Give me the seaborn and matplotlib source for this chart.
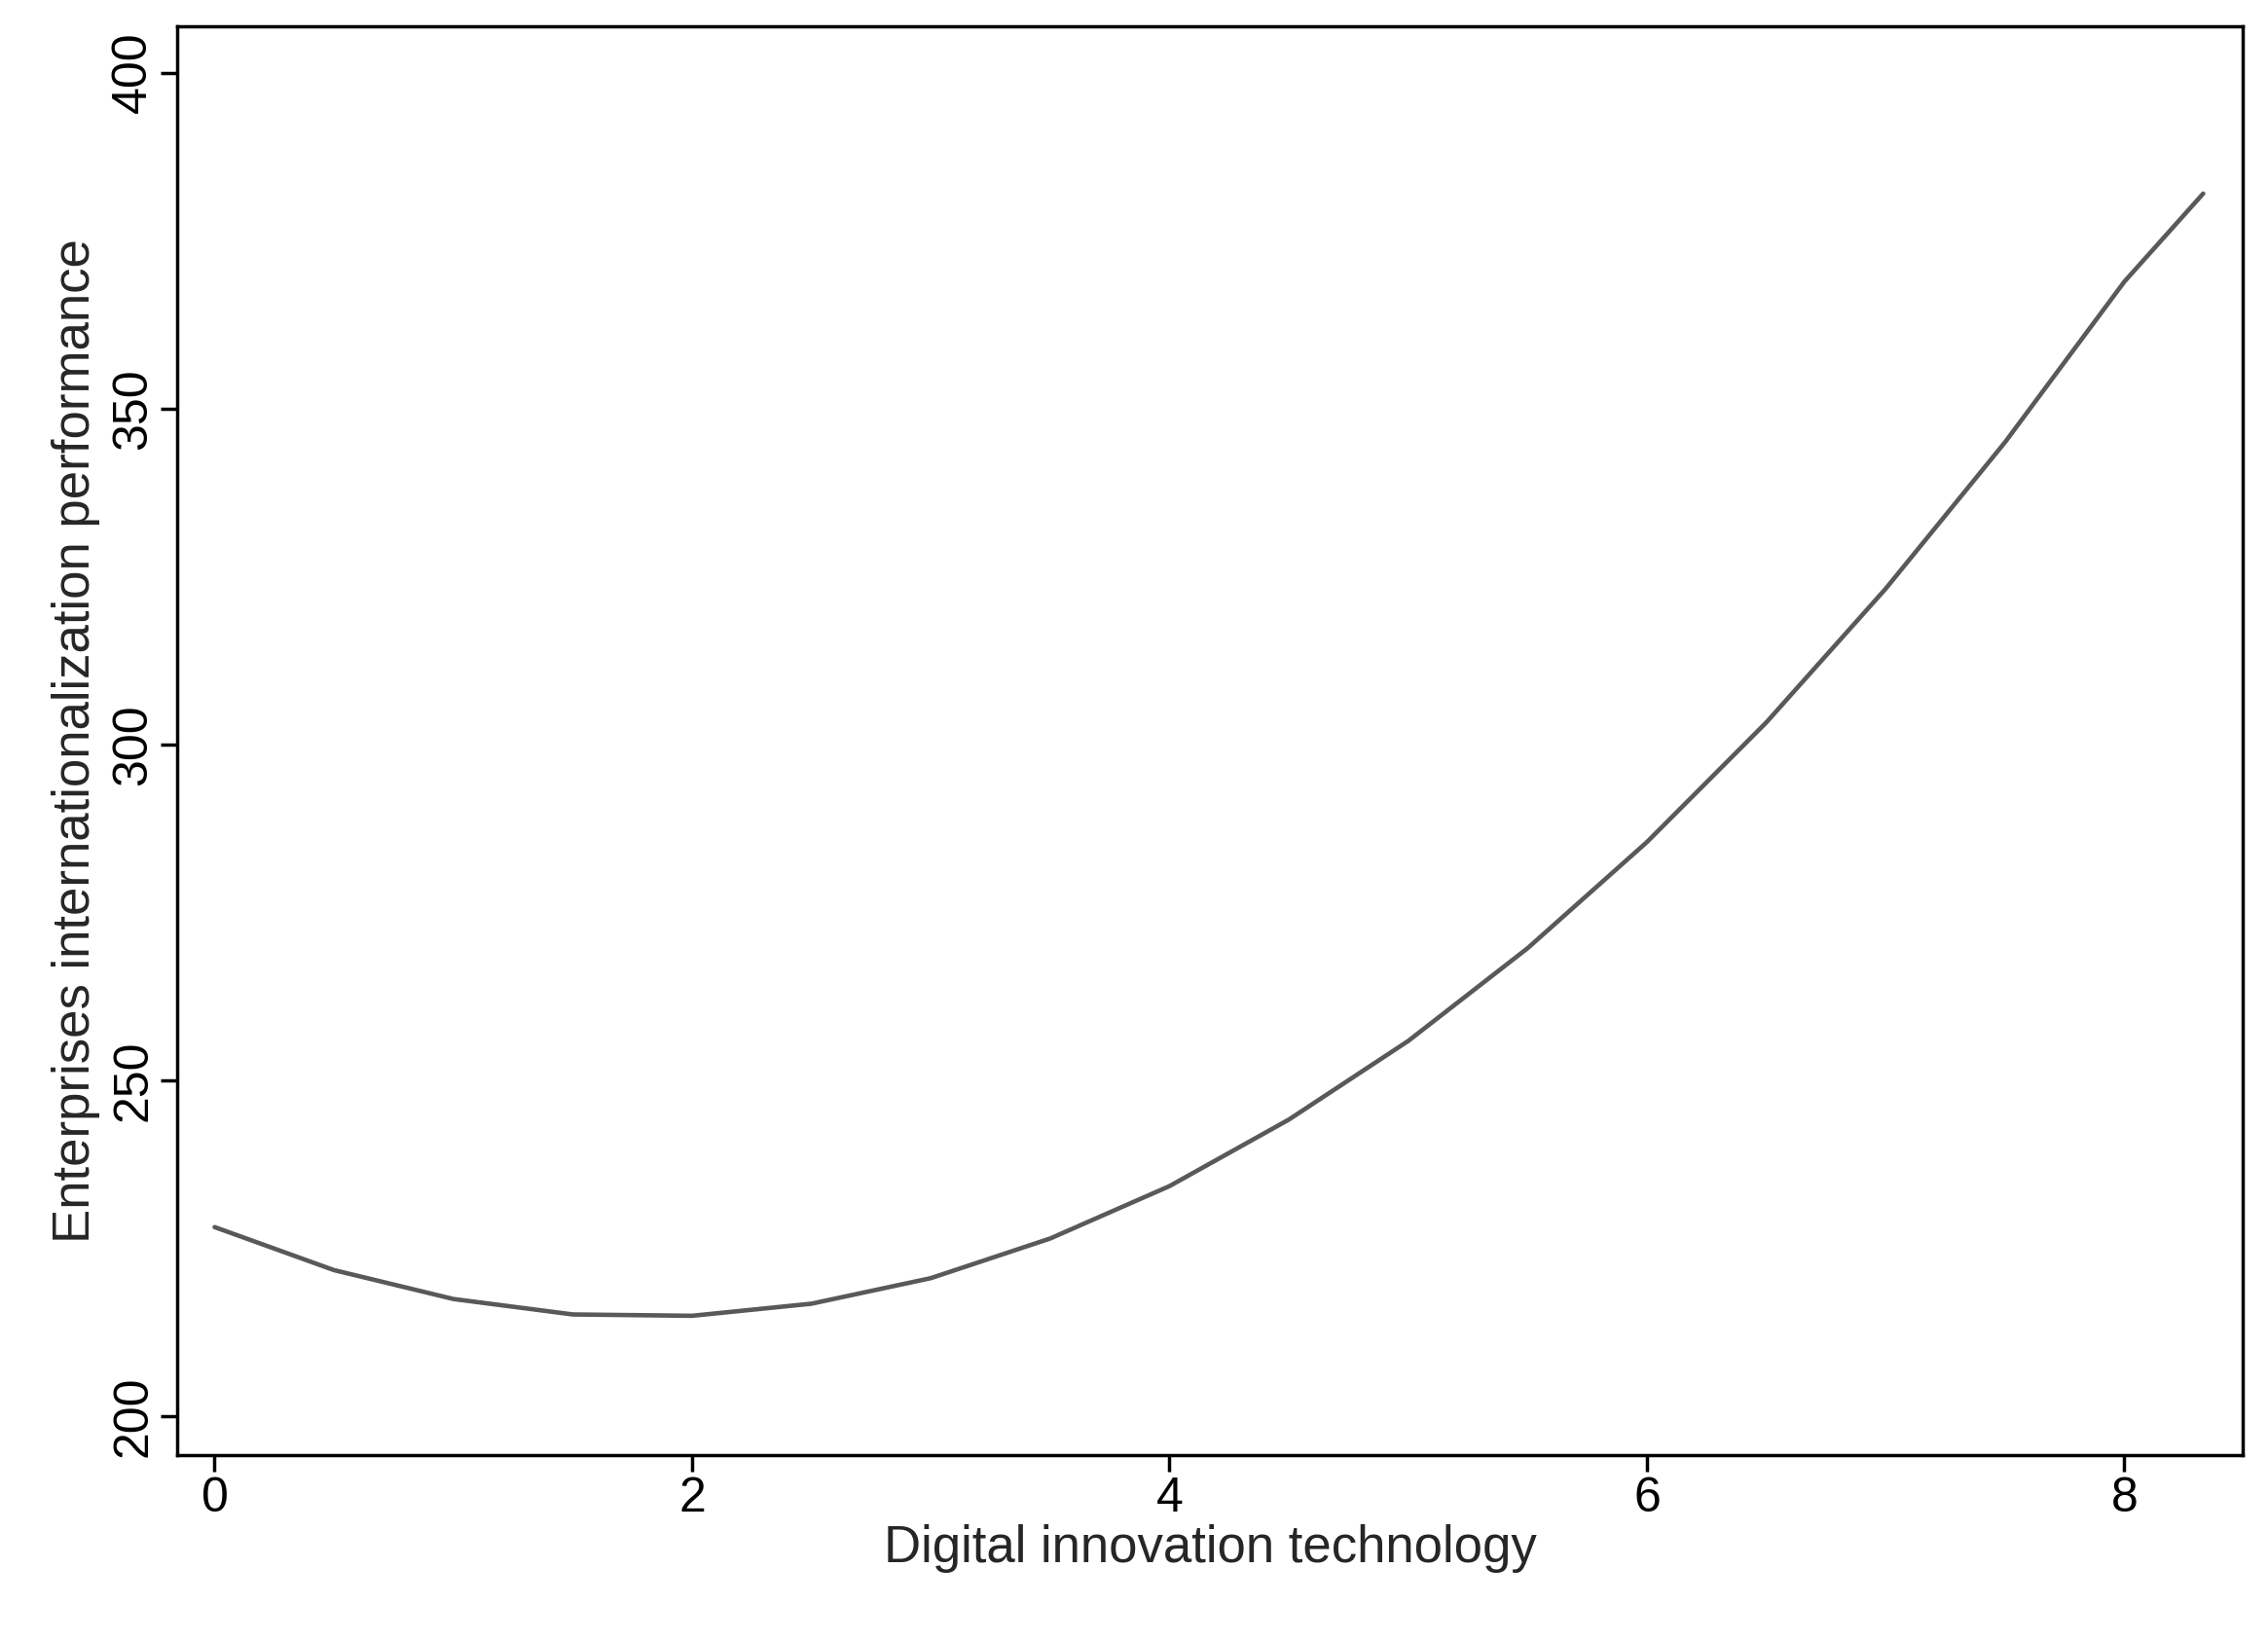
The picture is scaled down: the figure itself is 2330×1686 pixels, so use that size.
import numpy as np
import pandas as pd
import matplotlib
matplotlib.use("Agg")
import matplotlib.pyplot as plt
import seaborn as sns

x_vals = [0, 0.5, 1, 1.5, 2, 2.5, 3, 3.5, 4, 4.5, 5, 5.5, 6, 6.5, 7, 7.5, 8, 8.33]
y_vals = [228.2, 221.8, 217.5, 215.2, 215.0, 216.8, 220.6, 226.5, 234.3, 244.2, 255.9, 269.7, 285.5, 303.3, 323.2, 345.0, 368.9, 382.0]
x_ticks = [0, 2, 4, 6, 8]
y_ticks = [200, 250, 300, 350, 400]

sns.set_theme(style="ticks")
plt.rcParams['font.family'] = ['Liberation Sans', 'DejaVu Sans']

fig = plt.figure(figsize=(23.3, 16.86), dpi=100)
ax = fig.add_axes([0.078, 0.113, 0.911, 0.871])
df = pd.DataFrame({"x": x_vals, "y": y_vals})
sns.lineplot(data=df, x="x", y="y", ax=ax, color="#595959", linewidth=3.3)
ax.set_xlim(-0.158, 8.497)
ax.set_ylim(194.2, 406.9)
ax.set_xticks(x_ticks)
ax.set_yticks(y_ticks)
ax.set_yticklabels([str(v) for v in y_ticks], rotation=90, va="center")
ax.tick_params(labelsize=36, length=12, width=2.5, color="black", labelcolor="black")
for s in ax.spines.values():
    s.set_linewidth(2.5)
    s.set_color("black")
ax.set_xlabel("Digital innovation technology", fontsize=38, labelpad=2)
ax.set_ylabel("Enterprises internationalization performance", fontsize=38, labelpad=8)
fig.savefig("out.png", dpi=100, facecolor="white")
